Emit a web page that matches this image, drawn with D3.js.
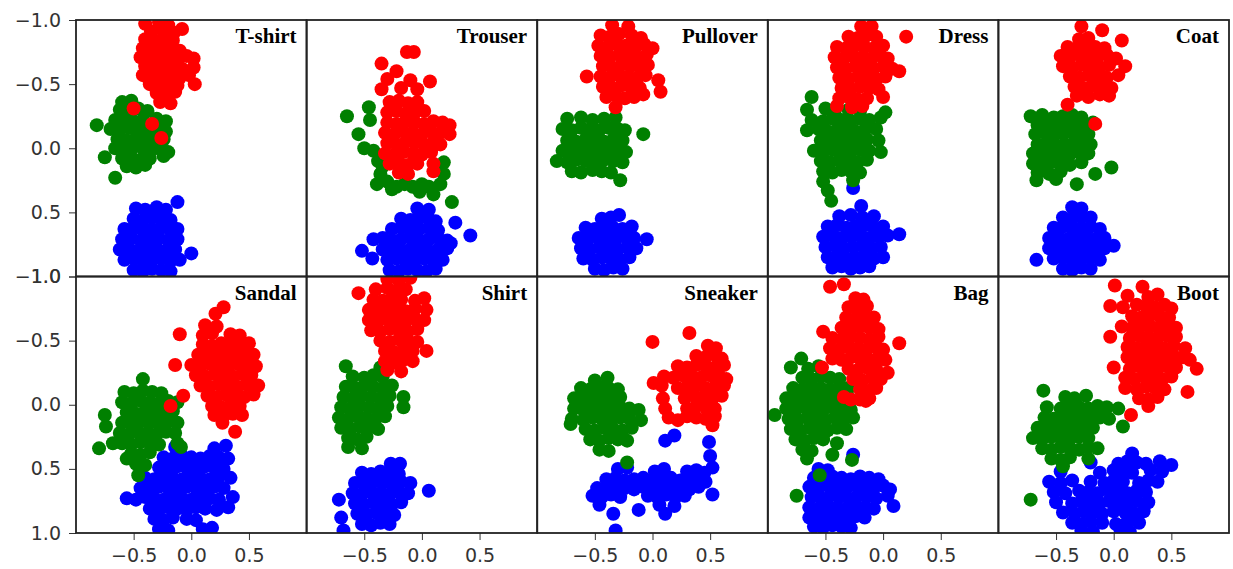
<!DOCTYPE html>
<html>
<head>
<meta charset="utf-8">
<script src="https://cdn.jsdelivr.net/npm/d3@7"></script>
<style>
  body { margin: 0; background: #fff; }
</style>
</head>
<body>
<div id="chart"></div>
<script>
// panel titles, left to right, top row first
const titles = ['T-shirt', 'Trouser', 'Pullover', 'Dress', 'Coat', 'Sandal', 'Shirt', 'Sneaker', 'Bag', 'Boot'];
const yTicks = [-1, -0.5, 0, 0.5, 1];
const xTicks = [-0.5, 0, 0.5];

// points, [x, y]
const tshirtRed = [
  [-0.40,-0.97],[-0.28,-0.98],[-0.20,-0.96],
  [-0.35,-0.91],[-0.25,-0.92],[-0.15,-0.90],[-0.08,-0.93],
  [-0.40,-0.85],[-0.32,-0.84],[-0.24,-0.86],[-0.16,-0.84],
  [-0.42,-0.78],[-0.34,-0.77],[-0.26,-0.79],[-0.18,-0.78],[-0.10,-0.76],
  [-0.44,-0.71],[-0.36,-0.70],[-0.28,-0.72],[-0.20,-0.71],[-0.12,-0.69],[-0.04,-0.72],[0.02,-0.70],
  [-0.40,-0.64],[-0.32,-0.65],[-0.24,-0.63],[-0.16,-0.64],[-0.08,-0.62],[0.02,-0.63],
  [-0.42,-0.57],[-0.34,-0.56],[-0.26,-0.58],[-0.18,-0.57],[-0.10,-0.55],[-0.02,-0.57],[0.03,-0.50],
  [-0.36,-0.50],[-0.28,-0.49],[-0.20,-0.51],[-0.12,-0.49],
  [-0.30,-0.43],[-0.22,-0.42],[-0.14,-0.44],
  [-0.27,-0.36],[-0.18,-0.35],
  [-0.50,-0.31],[-0.34,-0.19],[-0.26,-0.08]
];
const tshirtGreen = [
  [-0.60,-0.36],[-0.52,-0.37],
  [-0.62,-0.30],[-0.54,-0.29],[-0.46,-0.31],[-0.38,-0.29],
  [-0.66,-0.22],[-0.58,-0.23],[-0.50,-0.21],[-0.42,-0.22],[-0.30,-0.23],[-0.22,-0.21],
  [-0.70,-0.15],[-0.62,-0.14],[-0.54,-0.16],[-0.46,-0.15],[-0.38,-0.14],[-0.30,-0.15],[-0.22,-0.13],
  [-0.64,-0.07],[-0.56,-0.06],[-0.48,-0.08],[-0.40,-0.07],[-0.32,-0.06],[-0.24,-0.07],
  [-0.66,0.00],[-0.58,0.01],[-0.50,-0.01],[-0.42,0.00],[-0.34,0.01],[-0.26,0.00],[-0.20,0.03],
  [-0.60,0.08],[-0.52,0.07],[-0.44,0.09],[-0.36,0.08],[-0.24,0.06],
  [-0.56,0.14],[-0.48,0.15],[-0.40,0.13],
  [-0.82,-0.18],[-0.75,0.07],[-0.66,0.23]
];
const tshirtBlue = [
  [-0.12,0.42],
  [-0.48,0.47],[-0.40,0.48],[-0.30,0.46],[-0.22,0.48],
  [-0.50,0.55],[-0.42,0.56],[-0.34,0.54],[-0.26,0.55],[-0.18,0.56],
  [-0.58,0.63],[-0.50,0.62],[-0.42,0.64],[-0.34,0.63],[-0.26,0.62],[-0.18,0.64],[-0.12,0.63],
  [-0.60,0.71],[-0.52,0.70],[-0.44,0.72],[-0.36,0.71],[-0.28,0.70],[-0.20,0.72],[-0.12,0.71],
  [-0.62,0.79],[-0.54,0.78],[-0.46,0.80],[-0.38,0.79],[-0.30,0.78],[-0.22,0.80],[-0.14,0.79],[0.00,0.82],
  [-0.58,0.87],[-0.50,0.86],[-0.42,0.88],[-0.34,0.87],[-0.26,0.86],[-0.18,0.88],[-0.10,0.87],
  [-0.50,0.95],[-0.42,0.96],[-0.34,0.94],[-0.26,0.95],[-0.18,0.96]
];

const trouserRed = [
  [-0.13,-0.75],[-0.07,-0.75],[-0.35,-0.66],[-0.22,-0.60],[-0.30,-0.54],[-0.10,-0.53],[0.07,-0.52],
  [-0.35,-0.46],[-0.18,-0.47],[-0.04,-0.46],
  [-0.28,-0.36],[-0.20,-0.37],[-0.12,-0.35],[-0.04,-0.36],
  [-0.30,-0.28],[-0.22,-0.29],[-0.14,-0.27],[-0.06,-0.28],[0.02,-0.29],
  [-0.30,-0.20],[-0.22,-0.19],[-0.14,-0.21],[-0.06,-0.20],[0.02,-0.19],[0.10,-0.21],[0.18,-0.20],[0.24,-0.18],
  [-0.32,-0.12],[-0.24,-0.11],[-0.16,-0.13],[-0.08,-0.12],[0.00,-0.11],[0.08,-0.13],[0.16,-0.12],[0.24,-0.11],
  [-0.30,-0.04],[-0.22,-0.03],[-0.14,-0.05],[-0.06,-0.04],[0.02,-0.03],[0.10,-0.05],[0.16,-0.03],
  [-0.32,0.04],[-0.24,0.05],[-0.16,0.03],[-0.08,0.04],[0.00,0.05],[0.08,0.03],
  [-0.28,0.12],[-0.20,0.11],[-0.12,0.13],[-0.04,0.12],[0.10,0.12],
  [-0.20,0.19],[-0.12,0.20],[0.10,0.18]
];
const trouserGreen = [
  [-0.65,-0.25],[-0.46,-0.32],[-0.45,-0.22],[-0.55,-0.11],[-0.50,0.00],[-0.42,0.02],[-0.38,0.10],
  [-0.36,0.20],[-0.34,0.14],[-0.39,0.28],[-0.30,0.26],[-0.26,0.32],[-0.22,0.30],[-0.15,0.28],
  [-0.08,0.30],[-0.02,0.34],[0.00,0.28],[0.06,0.30],[0.10,0.36],[0.16,0.28],[0.19,0.20],
  [0.19,0.11],[0.14,0.16],[0.26,0.42]
];
const trouserBlue = [
  [-0.04,0.47],[0.06,0.48],
  [-0.18,0.55],[-0.10,0.56],[-0.02,0.54],[0.06,0.55],[0.12,0.57],
  [-0.26,0.63],[-0.18,0.62],[-0.10,0.64],[-0.02,0.63],[0.06,0.62],[0.14,0.64],
  [-0.42,0.71],[-0.34,0.70],[-0.26,0.72],[-0.18,0.71],[-0.10,0.70],[-0.02,0.72],[0.06,0.71],[0.14,0.70],[0.22,0.72],
  [-0.34,0.79],[-0.26,0.78],[-0.18,0.80],[-0.10,0.79],[-0.02,0.78],[0.06,0.80],[0.14,0.79],[0.22,0.78],
  [-0.30,0.87],[-0.22,0.86],[-0.14,0.88],[-0.06,0.87],[0.02,0.86],[0.10,0.88],[0.18,0.87],
  [-0.28,0.95],[-0.20,0.96],[-0.12,0.94],[-0.04,0.95],[0.04,0.96],[0.12,0.94],
  [-0.52,0.80],[-0.43,0.86],[0.42,0.68],[0.29,0.58],[0.25,0.74]
];

const pulloverRed = [
  [-0.35,-0.96],[-0.21,-0.95],
  [-0.45,-0.88],[-0.37,-0.87],[-0.29,-0.89],[-0.18,-0.88],[-0.10,-0.86],
  [-0.47,-0.80],[-0.39,-0.79],[-0.31,-0.81],[-0.23,-0.80],[-0.15,-0.79],[-0.07,-0.81],[0.00,-0.78],
  [-0.45,-0.72],[-0.37,-0.71],[-0.29,-0.73],[-0.21,-0.72],[-0.13,-0.71],[-0.05,-0.73],
  [-0.43,-0.64],[-0.35,-0.63],[-0.27,-0.65],[-0.19,-0.64],[-0.11,-0.63],[-0.04,-0.65],
  [-0.57,-0.56],[-0.45,-0.56],[-0.37,-0.55],[-0.29,-0.57],[-0.21,-0.56],[-0.13,-0.55],[-0.06,-0.57],
  [-0.43,-0.48],[-0.35,-0.47],[-0.27,-0.49],[-0.19,-0.48],[-0.11,-0.47],
  [-0.40,-0.40],[-0.32,-0.41],[-0.24,-0.39],[-0.16,-0.40],[-0.08,-0.42],
  [-0.32,-0.32],[0.05,-0.53],[0.07,-0.44]
];
const pulloverGreen = [
  [-0.74,-0.23],[-0.62,-0.24],[-0.52,-0.22],[-0.42,-0.23],[-0.32,-0.24],
  [-0.78,-0.15],[-0.70,-0.14],[-0.62,-0.16],[-0.54,-0.15],[-0.46,-0.14],[-0.38,-0.16],[-0.30,-0.15],[-0.24,-0.14],
  [-0.74,-0.06],[-0.66,-0.05],[-0.58,-0.07],[-0.50,-0.06],[-0.42,-0.05],[-0.34,-0.07],[-0.26,-0.06],
  [-0.78,0.02],[-0.70,0.03],[-0.62,0.01],[-0.54,0.02],[-0.46,0.03],[-0.38,0.01],[-0.30,0.02],[-0.23,0.03],
  [-0.83,0.10],[-0.74,0.11],[-0.66,0.09],[-0.58,0.10],[-0.50,0.11],[-0.42,0.09],[-0.34,0.10],[-0.26,0.11],
  [-0.70,0.18],[-0.62,0.19],[-0.52,0.17],[-0.44,0.18],[-0.36,0.19],
  [-0.08,-0.11],[-0.28,0.25]
];
const pulloverBlue = [
  [-0.44,0.55],[-0.36,0.54],[-0.29,0.52],
  [-0.58,0.62],[-0.50,0.63],[-0.42,0.61],[-0.34,0.62],[-0.26,0.63],[-0.18,0.61],
  [-0.64,0.70],[-0.56,0.71],[-0.48,0.69],[-0.40,0.70],[-0.32,0.71],[-0.24,0.69],[-0.16,0.70],[-0.05,0.71],
  [-0.62,0.78],[-0.54,0.79],[-0.46,0.77],[-0.38,0.78],[-0.30,0.79],[-0.22,0.77],[-0.14,0.78],
  [-0.60,0.86],[-0.52,0.87],[-0.44,0.85],[-0.36,0.86],[-0.28,0.87],[-0.20,0.85],
  [-0.50,0.94],[-0.42,0.95],[-0.34,0.93],[-0.26,0.94]
];

const dressRed = [
  [-0.19,-0.95],[-0.10,-0.95],
  [-0.30,-0.87],[-0.22,-0.86],[-0.14,-0.88],[-0.06,-0.87],[0.20,-0.87],
  [-0.40,-0.79],[-0.32,-0.78],[-0.24,-0.80],[-0.16,-0.79],[-0.08,-0.78],[0.00,-0.80],
  [-0.42,-0.71],[-0.34,-0.70],[-0.26,-0.72],[-0.18,-0.71],[-0.10,-0.70],[-0.02,-0.72],[0.04,-0.70],
  [-0.40,-0.63],[-0.32,-0.62],[-0.24,-0.64],[-0.16,-0.63],[-0.08,-0.62],[0.00,-0.64],[0.08,-0.62],[0.14,-0.60],
  [-0.38,-0.55],[-0.30,-0.54],[-0.22,-0.56],[-0.14,-0.55],[-0.06,-0.54],[0.02,-0.56],
  [-0.36,-0.47],[-0.28,-0.46],[-0.20,-0.48],[-0.12,-0.47],[-0.04,-0.46],[0.00,-0.40],
  [-0.38,-0.39],[-0.30,-0.40],[-0.22,-0.38],[-0.14,-0.39],
  [-0.40,-0.33],[-0.27,-0.32],[-0.18,-0.33]
];
const dressGreen = [
  [-0.62,-0.40],
  [-0.66,-0.30],[-0.50,-0.31],[-0.42,-0.29],[-0.30,-0.30],[-0.20,-0.29],[0.02,-0.28],
  [-0.62,-0.22],[-0.52,-0.21],[-0.44,-0.23],[-0.36,-0.22],[-0.28,-0.21],[-0.20,-0.23],[-0.12,-0.22],[-0.02,-0.24],
  [-0.66,-0.14],[-0.56,-0.15],[-0.48,-0.13],[-0.40,-0.14],[-0.32,-0.15],[-0.24,-0.13],[-0.16,-0.14],[-0.06,-0.15],
  [-0.54,-0.06],[-0.46,-0.05],[-0.38,-0.07],[-0.30,-0.06],[-0.22,-0.05],[-0.14,-0.07],[-0.04,-0.06],
  [-0.60,0.02],[-0.52,0.03],[-0.44,0.01],[-0.36,0.02],[-0.28,0.03],[-0.20,0.01],[-0.12,0.02],[-0.02,0.03],
  [-0.54,0.10],[-0.46,0.11],[-0.38,0.09],[-0.30,0.10],[-0.22,0.11],[-0.14,0.09],
  [-0.52,0.18],[-0.44,0.19],[-0.36,0.17],[-0.28,0.18],[-0.20,0.19],
  [-0.52,0.26],[-0.26,0.25],[-0.48,0.33],[-0.45,0.41]
];
const dressBlue = [
  [-0.26,0.31],[-0.19,0.45],
  [-0.38,0.53],[-0.28,0.52],[-0.18,0.54],[-0.08,0.53],
  [-0.48,0.61],[-0.40,0.60],[-0.32,0.62],[-0.24,0.61],[-0.16,0.60],[-0.08,0.62],[0.00,0.61],
  [-0.52,0.69],[-0.44,0.68],[-0.36,0.70],[-0.28,0.69],[-0.20,0.68],[-0.12,0.70],[-0.04,0.69],[0.04,0.68],[0.14,0.67],
  [-0.50,0.77],[-0.42,0.76],[-0.34,0.78],[-0.26,0.77],[-0.18,0.76],[-0.10,0.78],[-0.02,0.77],
  [-0.48,0.85],[-0.40,0.84],[-0.32,0.86],[-0.24,0.85],[-0.16,0.84],[-0.08,0.86],[0.00,0.85],
  [-0.44,0.93],[-0.36,0.92],[-0.28,0.94],[-0.20,0.93],[-0.12,0.92]
];

const coatRed = [
  [-0.28,-0.95],[-0.10,-0.92],
  [-0.30,-0.85],[-0.22,-0.86],[0.07,-0.84],
  [-0.40,-0.79],[-0.32,-0.78],[-0.24,-0.80],[-0.16,-0.79],[-0.08,-0.78],
  [-0.46,-0.72],[-0.38,-0.71],[-0.30,-0.73],[-0.22,-0.72],[-0.14,-0.71],[-0.06,-0.73],[0.02,-0.70],
  [-0.44,-0.64],[-0.36,-0.63],[-0.28,-0.65],[-0.20,-0.64],[-0.12,-0.63],[-0.04,-0.65],[0.10,-0.64],
  [-0.38,-0.56],[-0.30,-0.55],[-0.22,-0.57],[-0.14,-0.56],[-0.06,-0.55],[0.04,-0.57],
  [-0.34,-0.48],[-0.26,-0.47],[-0.18,-0.49],[-0.10,-0.48],[-0.02,-0.47],
  [-0.32,-0.41],[-0.22,-0.40],[-0.12,-0.42],[-0.04,-0.41],
  [-0.40,-0.34],[-0.16,-0.19]
];
const coatGreen = [
  [-0.72,-0.25],[-0.62,-0.26],[-0.52,-0.24],[-0.44,-0.25],[-0.36,-0.26],[-0.28,-0.24],
  [-0.66,-0.18],[-0.58,-0.19],[-0.50,-0.17],[-0.42,-0.18],[-0.34,-0.19],[-0.26,-0.17],[-0.18,-0.20],
  [-0.68,-0.11],[-0.60,-0.12],[-0.52,-0.10],[-0.44,-0.11],[-0.36,-0.12],[-0.28,-0.10],[-0.22,-0.11],
  [-0.66,-0.03],[-0.58,-0.04],[-0.50,-0.02],[-0.42,-0.03],[-0.34,-0.04],[-0.26,-0.02],[-0.20,-0.03],
  [-0.70,0.04],[-0.62,0.05],[-0.54,0.03],[-0.46,0.04],[-0.38,0.05],[-0.30,0.03],[-0.22,0.04],
  [-0.70,0.12],[-0.62,0.13],[-0.54,0.11],[-0.46,0.12],[-0.38,0.13],[-0.28,0.11],
  [-0.66,0.19],[-0.56,0.20],[-0.46,0.18],[-0.16,0.20],
  [-0.02,0.15],[-0.32,0.28],[-0.67,0.25],[-0.50,0.24]
];
const coatBlue = [
  [-0.36,0.46],[-0.28,0.47],
  [-0.44,0.54],[-0.36,0.55],[-0.28,0.53],[-0.20,0.54],
  [-0.52,0.62],[-0.44,0.61],[-0.36,0.63],[-0.28,0.62],[-0.20,0.61],[-0.12,0.63],
  [-0.56,0.70],[-0.48,0.69],[-0.40,0.71],[-0.32,0.70],[-0.24,0.69],[-0.16,0.71],[-0.08,0.70],
  [-0.56,0.78],[-0.48,0.77],[-0.40,0.79],[-0.32,0.78],[-0.24,0.77],[-0.16,0.79],[-0.08,0.78],[0.00,0.76],
  [-0.67,0.87],[-0.52,0.86],[-0.44,0.85],[-0.36,0.87],[-0.28,0.86],[-0.20,0.85],[-0.12,0.87],
  [-0.44,0.94],[-0.36,0.95],[-0.28,0.93],[-0.20,0.94]
];

const sandalRed = [
  [0.28,-0.76],[0.21,-0.71],
  [0.12,-0.62],[0.22,-0.61],
  [-0.10,-0.55],[0.10,-0.54],[0.18,-0.56],[0.34,-0.55],[0.42,-0.54],
  [0.10,-0.47],[0.18,-0.46],[0.26,-0.48],[0.34,-0.47],[0.42,-0.46],[0.50,-0.48],
  [0.06,-0.39],[0.14,-0.38],[0.22,-0.40],[0.30,-0.39],[0.38,-0.38],[0.46,-0.40],[0.54,-0.39],
  [-0.14,-0.31],[0.00,-0.31],[0.08,-0.30],[0.16,-0.32],[0.24,-0.31],[0.32,-0.30],[0.40,-0.32],[0.48,-0.31],[0.56,-0.30],
  [0.04,-0.23],[0.12,-0.22],[0.20,-0.24],[0.28,-0.23],[0.36,-0.22],[0.44,-0.24],[0.52,-0.23],
  [0.08,-0.15],[0.16,-0.14],[0.24,-0.16],[0.32,-0.15],[0.40,-0.14],[0.48,-0.16],[0.58,-0.15],
  [-0.07,-0.07],[0.14,-0.07],[0.22,-0.06],[0.30,-0.08],[0.38,-0.07],[0.46,-0.06],[0.54,-0.08],
  [-0.18,0.01],[0.18,0.01],[0.26,0.02],[0.34,0.00],[0.42,0.01],
  [0.20,0.08],[0.28,0.09],[0.36,0.07],[0.44,0.08],
  [0.27,0.14],[0.38,0.21]
];
const sandalGreen = [
  [-0.42,-0.20],
  [-0.58,-0.10],[-0.50,-0.09],[-0.42,-0.11],[-0.34,-0.10],[-0.26,-0.09],
  [-0.60,-0.02],[-0.52,-0.01],[-0.44,-0.03],[-0.36,-0.02],[-0.28,-0.01],[-0.20,-0.03],[-0.12,-0.02],
  [-0.56,0.06],[-0.48,0.07],[-0.40,0.05],[-0.32,0.06],[-0.24,0.07],[-0.16,0.05],
  [-0.60,0.14],[-0.52,0.15],[-0.44,0.13],[-0.36,0.14],[-0.28,0.15],[-0.20,0.13],[-0.12,0.14],
  [-0.62,0.22],[-0.54,0.23],[-0.46,0.21],[-0.38,0.22],[-0.30,0.23],[-0.22,0.21],[-0.14,0.22],
  [-0.60,0.30],[-0.52,0.31],[-0.44,0.29],[-0.36,0.30],[-0.28,0.31],[-0.12,0.30],[-0.09,0.33],
  [-0.52,0.38],[-0.44,0.39],[-0.36,0.37],
  [-0.48,0.46],[-0.40,0.47],
  [-0.75,0.08],[-0.74,0.17],[-0.80,0.34],[-0.46,0.55],[-0.56,0.42],[-0.68,0.30]
];
const sandalBlue = [
  [-0.14,0.33],[0.20,0.34],[0.30,0.32],
  [-0.24,0.41],[-0.16,0.42],[-0.08,0.40],[0.00,0.41],[0.08,0.42],[0.16,0.40],[0.24,0.41],[0.32,0.42],
  [-0.28,0.49],[-0.20,0.50],[-0.12,0.48],[-0.04,0.49],[0.04,0.50],[0.12,0.48],[0.20,0.49],[0.28,0.50],
  [-0.40,0.57],[-0.32,0.58],[-0.24,0.56],[-0.16,0.57],[-0.08,0.58],[0.00,0.56],[0.08,0.57],[0.16,0.58],[0.24,0.56],[0.34,0.57],
  [-0.44,0.65],[-0.36,0.66],[-0.28,0.64],[-0.20,0.65],[-0.12,0.66],[-0.04,0.64],[0.04,0.65],[0.12,0.66],[0.20,0.64],[0.28,0.65],
  [-0.56,0.73],[-0.48,0.74],[-0.40,0.72],[-0.32,0.73],[-0.24,0.74],[-0.16,0.72],[-0.08,0.73],[0.00,0.74],[0.08,0.72],[0.16,0.73],[0.24,0.74],[0.36,0.72],
  [-0.36,0.81],[-0.28,0.82],[-0.20,0.80],[-0.12,0.81],[-0.04,0.82],[0.04,0.80],[0.12,0.81],[0.22,0.82],[0.32,0.80],
  [-0.32,0.89],[-0.24,0.90],[-0.16,0.88],[-0.04,0.89],[0.04,0.90],
  [-0.28,0.97],[-0.20,0.98],[0.10,0.97],[0.18,0.96]
];

const shirtRed = [
  [-0.30,-0.98],[-0.20,-0.97],[-0.10,-0.99],
  [-0.40,-0.90],[-0.30,-0.91],[-0.22,-0.89],[-0.14,-0.90],
  [-0.55,-0.87],
  [-0.42,-0.82],[-0.34,-0.81],[-0.26,-0.83],[-0.18,-0.82],[-0.06,-0.81],[0.02,-0.83],
  [-0.46,-0.74],[-0.38,-0.73],[-0.30,-0.75],[-0.22,-0.74],[-0.14,-0.73],[-0.06,-0.75],[0.04,-0.74],
  [-0.46,-0.66],[-0.38,-0.65],[-0.30,-0.67],[-0.22,-0.66],[-0.14,-0.65],[-0.06,-0.67],[0.02,-0.66],
  [-0.44,-0.58],[-0.36,-0.57],[-0.28,-0.59],[-0.20,-0.58],[-0.12,-0.57],[-0.04,-0.59],
  [-0.36,-0.50],[-0.28,-0.49],[-0.20,-0.51],[-0.12,-0.50],[-0.04,-0.49],
  [-0.32,-0.42],[-0.24,-0.41],[-0.16,-0.43],[-0.08,-0.42],[0.04,-0.42],
  [-0.32,-0.34],[-0.24,-0.33],[-0.16,-0.35],[-0.08,-0.34],
  [-0.30,-0.27],[-0.18,-0.26]
];
const shirtGreen = [
  [-0.66,-0.30],[-0.36,-0.29],
  [-0.60,-0.22],[-0.50,-0.21],[-0.42,-0.23],[-0.34,-0.22],
  [-0.66,-0.14],[-0.58,-0.13],[-0.50,-0.15],[-0.42,-0.14],[-0.34,-0.13],[-0.26,-0.15],
  [-0.68,-0.06],[-0.60,-0.05],[-0.52,-0.07],[-0.44,-0.06],[-0.36,-0.05],[-0.28,-0.07],[-0.16,-0.06],
  [-0.70,0.02],[-0.62,0.03],[-0.54,0.01],[-0.46,0.02],[-0.38,0.03],[-0.30,0.01],[-0.16,0.02],
  [-0.72,0.10],[-0.64,0.11],[-0.56,0.09],[-0.48,0.10],[-0.40,0.11],[-0.32,0.09],
  [-0.70,0.18],[-0.62,0.19],[-0.54,0.17],[-0.46,0.18],[-0.38,0.19],
  [-0.64,0.26],[-0.56,0.27],[-0.48,0.25],
  [-0.64,0.33],[-0.52,0.34]
];
const shirtBlue = [
  [-0.27,0.46],[-0.19,0.46],
  [-0.52,0.53],[-0.44,0.54],[-0.36,0.52],[-0.28,0.53],[-0.20,0.54],
  [-0.58,0.61],[-0.50,0.62],[-0.42,0.60],[-0.34,0.61],[-0.26,0.62],[-0.18,0.60],[-0.10,0.61],
  [-0.60,0.69],[-0.52,0.70],[-0.44,0.68],[-0.36,0.69],[-0.28,0.70],[-0.20,0.68],[-0.12,0.69],[0.06,0.67],
  [-0.72,0.74],[-0.58,0.77],[-0.50,0.78],[-0.42,0.76],[-0.34,0.77],[-0.26,0.78],[-0.18,0.76],
  [-0.70,0.88],[-0.56,0.85],[-0.48,0.86],[-0.40,0.84],[-0.32,0.85],[-0.24,0.86],
  [-0.52,0.93],[-0.44,0.94],[-0.36,0.92],[-0.28,0.93],
  [-0.68,0.98]
];

const sneakerRed = [
  [0.32,-0.56],[0.00,-0.49],
  [0.48,-0.46],[0.55,-0.44],
  [0.38,-0.38],[0.46,-0.37],[0.54,-0.39],[0.60,-0.36],
  [0.22,-0.30],[0.30,-0.29],[0.38,-0.31],[0.46,-0.30],[0.54,-0.29],[0.62,-0.31],
  [0.10,-0.22],[0.18,-0.21],[0.26,-0.23],[0.34,-0.22],[0.42,-0.21],[0.50,-0.23],[0.58,-0.22],[0.64,-0.20],
  [0.01,-0.17],[0.08,-0.15],[0.22,-0.13],[0.30,-0.14],[0.38,-0.15],[0.46,-0.13],[0.54,-0.14],[0.62,-0.15],
  [0.09,-0.05],[0.28,-0.05],[0.36,-0.07],[0.44,-0.06],[0.52,-0.05],[0.60,-0.07],
  [0.11,0.03],[0.30,0.03],[0.38,0.01],[0.46,0.02],[0.54,0.03],
  [0.14,0.10],[0.22,0.12],[0.30,0.09],[0.38,0.10],[0.46,0.11],[0.54,0.09],
  [0.52,0.16]
];
const sneakerGreen = [
  [-0.50,-0.19],[-0.39,-0.21],
  [-0.62,-0.13],[-0.54,-0.12],[-0.46,-0.14],[-0.38,-0.13],[-0.30,-0.12],
  [-0.68,-0.05],[-0.60,-0.04],[-0.52,-0.06],[-0.44,-0.05],[-0.36,-0.04],[-0.28,-0.06],
  [-0.68,0.03],[-0.60,0.04],[-0.52,0.02],[-0.44,0.03],[-0.36,0.04],[-0.28,0.02],[-0.20,0.03],[-0.12,0.04],
  [-0.70,0.11],[-0.60,0.12],[-0.52,0.10],[-0.44,0.11],[-0.36,0.12],[-0.28,0.10],[-0.20,0.11],[-0.10,0.12],
  [-0.58,0.19],[-0.50,0.20],[-0.42,0.18],[-0.34,0.19],[-0.26,0.20],[-0.18,0.18],
  [-0.54,0.27],[-0.46,0.28],[-0.38,0.26],[-0.30,0.27],[-0.22,0.28],
  [-0.46,0.35],[-0.38,0.36],
  [-0.71,0.15],[-0.22,0.45]
];
const sneakerBlue = [
  [0.19,0.24],[0.11,0.28],[0.49,0.29],[0.50,0.40],[0.52,0.49],
  [-0.30,0.50],[-0.22,0.49],[0.02,0.52],[0.10,0.50],[0.30,0.52],[0.38,0.51],[0.45,0.53],
  [-0.40,0.58],[-0.32,0.57],[-0.24,0.59],[-0.16,0.58],[-0.08,0.57],[0.00,0.59],[0.08,0.58],[0.16,0.57],[0.24,0.59],[0.32,0.58],[0.40,0.57],[0.46,0.60],
  [-0.48,0.65],[-0.40,0.66],[-0.32,0.64],[-0.24,0.65],[-0.16,0.66],[-0.08,0.64],[0.00,0.65],[0.08,0.66],[0.16,0.64],[0.24,0.65],[0.32,0.66],[0.40,0.64],
  [-0.52,0.71],[-0.44,0.72],[-0.36,0.70],[-0.28,0.72],[-0.04,0.71],[0.04,0.72],[0.12,0.70],[0.20,0.72],[0.28,0.71],[0.52,0.70],
  [-0.46,0.78],[-0.34,0.85],[-0.32,0.98],[-0.12,0.82],[0.11,0.85],[0.19,0.79],[0.06,0.78]
];

const bagRed = [
  [-0.34,-0.94],[-0.46,-0.92],
  [-0.24,-0.83],[-0.17,-0.82],
  [-0.30,-0.76],[-0.22,-0.75],[-0.14,-0.77],
  [-0.32,-0.68],[-0.24,-0.67],[-0.16,-0.69],[-0.08,-0.68],
  [-0.36,-0.60],[-0.28,-0.59],[-0.20,-0.61],[-0.12,-0.60],[-0.04,-0.59],
  [-0.52,-0.57],
  [-0.44,-0.52],[-0.36,-0.51],[-0.28,-0.53],[-0.20,-0.52],[-0.12,-0.51],[-0.04,-0.53],
  [0.14,-0.48],
  [-0.46,-0.44],[-0.38,-0.43],[-0.30,-0.45],[-0.22,-0.44],[-0.14,-0.43],[-0.06,-0.45],[0.00,-0.43],
  [-0.44,-0.36],[-0.36,-0.35],[-0.28,-0.37],[-0.20,-0.36],[-0.12,-0.35],[-0.04,-0.37],[0.02,-0.35],
  [-0.53,-0.29],[-0.30,-0.28],[-0.22,-0.27],[-0.14,-0.29],[-0.06,-0.28],[0.04,-0.25],
  [-0.26,-0.20],[-0.18,-0.19],[-0.10,-0.21],[-0.02,-0.20],
  [-0.20,-0.12],[-0.12,-0.11],[-0.06,-0.13],
  [-0.20,-0.04],[-0.12,-0.05],
  [-0.34,-0.06],[-0.28,-0.04],[-0.15,-0.03]
];
const bagGreen = [
  [-0.71,-0.36],
  [-0.80,-0.29],[-0.65,-0.28],[-0.56,-0.30],
  [-0.70,-0.21],[-0.62,-0.20],[-0.54,-0.22],[-0.46,-0.21],[-0.38,-0.20],
  [-0.78,-0.13],[-0.70,-0.12],[-0.62,-0.14],[-0.54,-0.13],[-0.46,-0.12],[-0.38,-0.14],[-0.30,-0.13],
  [-0.84,-0.05],[-0.76,-0.04],[-0.68,-0.06],[-0.60,-0.05],[-0.52,-0.04],[-0.44,-0.06],[-0.36,-0.05],[-0.28,-0.04],
  [-0.84,0.03],[-0.76,0.04],[-0.68,0.02],[-0.60,0.03],[-0.52,0.04],[-0.44,0.02],[-0.36,0.03],[-0.28,0.04],
  [-0.94,0.08],
  [-0.82,0.11],[-0.74,0.12],[-0.66,0.10],[-0.58,0.11],[-0.50,0.12],[-0.42,0.10],[-0.34,0.11],[-0.26,0.10],
  [-0.80,0.19],[-0.72,0.20],[-0.64,0.18],[-0.56,0.19],[-0.48,0.20],[-0.40,0.18],[-0.32,0.19],
  [-0.76,0.27],[-0.68,0.28],[-0.60,0.26],[-0.52,0.27],[-0.40,0.30],
  [-0.70,0.35],[-0.62,0.36],[-0.44,0.39],
  [-0.66,0.42],[-0.27,0.43],
  [-0.55,0.55],[-0.75,0.71]
];
const bagBlue = [
  [-0.26,0.39],
  [-0.56,0.50],[-0.48,0.51],
  [-0.60,0.57],[-0.52,0.58],[-0.44,0.56],[-0.36,0.57],[-0.28,0.58],[-0.20,0.56],[-0.12,0.57],[-0.04,0.58],
  [-0.64,0.64],[-0.56,0.65],[-0.48,0.63],[-0.40,0.64],[-0.32,0.65],[-0.24,0.63],[-0.16,0.64],[-0.08,0.65],[0.00,0.63],[0.06,0.66],
  [-0.62,0.72],[-0.54,0.73],[-0.46,0.71],[-0.38,0.72],[-0.30,0.73],[-0.22,0.71],[-0.14,0.72],[-0.06,0.73],[0.04,0.71],
  [-0.64,0.80],[-0.56,0.81],[-0.48,0.79],[-0.40,0.80],[-0.32,0.81],[-0.24,0.79],[-0.16,0.80],[-0.08,0.81],[0.09,0.79],
  [-0.64,0.88],[-0.56,0.89],[-0.48,0.87],[-0.40,0.88],[-0.32,0.89],[-0.24,0.87],[-0.16,0.88],
  [-0.60,0.95],[-0.52,0.96],[-0.44,0.94],[-0.36,0.95],[-0.28,0.96]
];

const bootRed = [
  [0.01,-0.93],[0.25,-0.92],
  [0.12,-0.85],[0.30,-0.84],[0.38,-0.86],
  [-0.03,-0.77],[0.08,-0.76],[0.20,-0.78],[0.28,-0.77],[0.36,-0.76],[0.44,-0.78],[0.50,-0.75],
  [0.16,-0.69],[0.24,-0.68],[0.32,-0.70],[0.40,-0.69],[0.48,-0.68],
  [0.07,-0.61],[0.16,-0.60],[0.24,-0.62],[0.32,-0.61],[0.40,-0.60],[0.48,-0.62],[0.54,-0.60],
  [-0.03,-0.53],[0.14,-0.52],[0.22,-0.54],[0.30,-0.53],[0.38,-0.52],[0.46,-0.54],[0.54,-0.53],
  [0.12,-0.45],[0.20,-0.44],[0.28,-0.46],[0.36,-0.45],[0.44,-0.44],[0.52,-0.46],[0.62,-0.44],
  [0.12,-0.37],[0.20,-0.36],[0.28,-0.38],[0.36,-0.37],[0.44,-0.36],[0.52,-0.38],[0.60,-0.37],[0.66,-0.35],
  [0.00,-0.29],[0.14,-0.28],[0.22,-0.30],[0.30,-0.29],[0.38,-0.28],[0.46,-0.30],[0.54,-0.29],[0.72,-0.28],
  [0.10,-0.21],[0.18,-0.20],[0.26,-0.22],[0.34,-0.21],[0.42,-0.20],[0.50,-0.22],
  [0.10,-0.13],[0.20,-0.12],[0.28,-0.14],[0.36,-0.13],[0.44,-0.12],[0.64,-0.10],
  [0.22,-0.05],[0.30,-0.04],[0.38,-0.06],
  [0.30,0.01],[0.15,0.08]
];
const bootGreen = [
  [-0.61,-0.11],
  [-0.42,-0.06],[-0.34,-0.05],[-0.24,-0.07],
  [-0.58,0.02],[-0.46,0.03],[-0.38,0.01],[-0.30,0.02],[-0.22,0.03],[-0.14,0.01],[-0.06,0.02],[0.04,0.03],
  [-0.60,0.10],[-0.52,0.11],[-0.44,0.09],[-0.36,0.10],[-0.28,0.11],[-0.20,0.09],[-0.12,0.10],[-0.04,0.11],
  [-0.66,0.18],[-0.58,0.19],[-0.50,0.17],[-0.42,0.18],[-0.34,0.19],[-0.26,0.17],[-0.18,0.18],[0.08,0.17],
  [-0.70,0.26],[-0.62,0.27],[-0.54,0.25],[-0.46,0.26],[-0.38,0.27],[-0.30,0.25],[-0.22,0.26],
  [-0.62,0.34],[-0.54,0.35],[-0.46,0.33],[-0.38,0.34],[-0.30,0.35],[-0.22,0.33],[-0.14,0.34],
  [-0.54,0.42],[-0.46,0.43],[-0.38,0.41],[-0.22,0.42],
  [-0.44,0.48],[-0.72,0.74]
];
const bootBlue = [
  [0.16,0.38],
  [-0.20,0.45],[0.04,0.46],[0.12,0.44],[0.20,0.45],[0.28,0.46],[0.40,0.44],[0.50,0.47],
  [-0.46,0.52],[-0.12,0.53],[0.00,0.51],[0.08,0.52],[0.16,0.53],[0.32,0.51],[0.42,0.52],
  [-0.56,0.60],[-0.46,0.61],[-0.36,0.59],[-0.20,0.60],[-0.08,0.61],[0.00,0.59],[0.08,0.60],[0.22,0.61],[0.30,0.59],[0.38,0.60],
  [-0.52,0.68],[-0.42,0.69],[-0.30,0.67],[-0.22,0.68],[-0.14,0.69],[-0.04,0.67],[0.04,0.68],[0.12,0.69],[0.20,0.67],[0.28,0.68],
  [-0.50,0.76],[-0.36,0.77],[-0.28,0.75],[-0.20,0.76],[-0.12,0.77],[-0.04,0.75],[0.04,0.76],[0.12,0.77],[0.20,0.75],[0.30,0.76],
  [-0.44,0.84],[-0.34,0.85],[-0.26,0.83],[-0.18,0.84],[-0.10,0.85],[0.00,0.83],[0.10,0.84],[0.18,0.85],[0.26,0.83],
  [-0.36,0.92],[-0.28,0.93],[-0.20,0.91],[-0.10,0.92],[0.02,0.93],[0.12,0.91],[0.22,0.92],
  [-0.28,0.98],[-0.18,0.99],[0.06,0.98],[0.14,0.99]
];

const redSets = [tshirtRed, trouserRed, pulloverRed, dressRed, coatRed, sandalRed, shirtRed, sneakerRed, bagRed, bootRed];
const greenSets = [tshirtGreen, trouserGreen, pulloverGreen, dressGreen, coatGreen, sandalGreen, shirtGreen, sneakerGreen, bagGreen, bootGreen];
const blueSets = [tshirtBlue, trouserBlue, pulloverBlue, dressBlue, coatBlue, sandalBlue, shirtBlue, sneakerBlue, bagBlue, bootBlue];

// set the dimensions and margins of the figure
const width = 1233;
const height = 569;
const margin = { top: 20, right: 4, bottom: 36, left: 76 };
const cols = 5;
const rows = 2;
const pw = (width - margin.left - margin.right) / cols;
const ph = (height - margin.top - margin.bottom) / rows;
const radius = 7;

const x = d3.scaleLinear().domain([-1, 1]).range([0, pw]);
// y runs downwards: -1 on top
const y = d3.scaleLinear().domain([-1, 1]).range([0, ph]);

const svg = d3.select('#chart').append('svg')
  .attr('width', width)
  .attr('height', height);

const defs = svg.append('defs');
defs.append('clipPath')
  .attr('id', 'panel-clip')
  .append('rect')
  .attr('width', pw)
  .attr('height', ph);

titles.forEach((title, i) => {
  const col = i % cols;
  const row = Math.floor(i / cols);
  const g = svg.append('g')
    .attr('transform', `translate(${margin.left + col * pw}, ${margin.top + row * ph})`);

  const dots = g.append('g').attr('clip-path', 'url(#panel-clip)');
  // blue first, red on top
  [[blueSets[i], '#0000ff'], [greenSets[i], '#008000'], [redSets[i], '#ff0000']].forEach(([pts, color]) => {
    dots.append('g')
      .selectAll('circle')
      .data(pts)
      .join('circle')
      .attr('cx', (d) => x(d[0]))
      .attr('cy', (d) => y(d[1]))
      .attr('r', radius)
      .attr('fill', color);
  });

  g.append('text')
    .attr('x', pw - 10)
    .attr('y', 23)
    .attr('text-anchor', 'end')
    .style('font-family', '"Liberation Serif", "Times New Roman", serif')
    .style('font-weight', 'bold')
    .style('font-size', '21px')
    .attr('fill', '#000')
    .text(title);

  if (col === 0) {
    const ay = g.append('g')
      .call(d3.axisLeft(y).tickValues(yTicks).tickFormat(d3.format('.1f')).tickSize(7).tickPadding(8));
    ay.select('.domain').remove();
    ay.selectAll('text').style('font-family', '"DejaVu Sans", sans-serif').style('font-size', '19px').attr('fill', '#333');
    ay.selectAll('line').attr('stroke', '#333');
  }
  if (row === rows - 1) {
    const ax = g.append('g')
      .attr('transform', `translate(0, ${ph})`)
      .call(d3.axisBottom(x).tickValues(xTicks).tickFormat(d3.format('.1f')).tickSize(7).tickPadding(9));
    ax.select('.domain').remove();
    ax.selectAll('text').style('font-family', '"DejaVu Sans", sans-serif').style('font-size', '19px').attr('fill', '#333');
    ax.selectAll('line').attr('stroke', '#333');
  }

  g.append('rect')
    .attr('width', pw)
    .attr('height', ph)
    .attr('fill', 'none')
    .attr('stroke', '#222')
    .attr('stroke-width', 1.8);
});
</script>
</body>
</html>
